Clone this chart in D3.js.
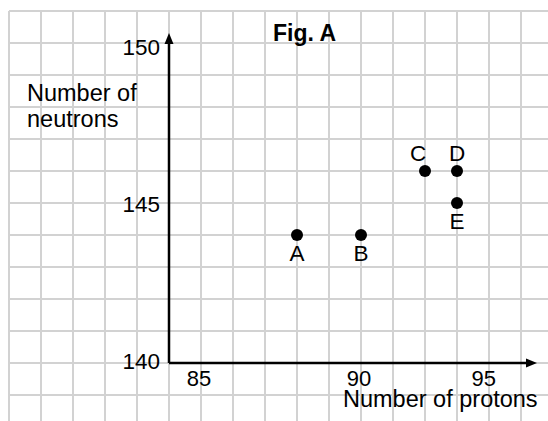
<!DOCTYPE html>
<html>
<head>
<meta charset="utf-8">
<script src="https://cdn.jsdelivr.net/npm/d3@7"></script>
<style>
  body { margin: 0; background: #fff; }
  text { font-family: "Liberation Sans", Arial, sans-serif; fill: #000; }
</style>
</head>
<body>
<svg width="548" height="421"></svg>
<script>
// Nuclides plotted on the chart
const names = ["A", "B", "C", "D", "E"];
const protons = [88, 90, 92, 93, 93];
const neutrons = [144, 144, 146, 146, 145];
// where each point label sits relative to its dot
const labelSide = ["below", "below", "above", "above", "below"];

// Axis tick labels (the 95 is drawn short of its grid line in the original)
const xTickLabels = ["85", "90", "95"];
const xTickAt = [85, 90, 93.9];
const yTickLabels = ["140", "145", "150"];
const yTickAt = [140, 145, 150];

const svg = d3.select("svg");

// One grid square = one unit on both axes
const x = d3.scaleLinear().domain([79, 96]).range([9, 553]);
const y = d3.scaleLinear().domain([138, 151]).range([427, 11]);

const xOrigin = 84, yOrigin = 140;

// Graph-paper grid
const grid = svg.append("g")
    .attr("stroke", "#d2d2d2")
    .attr("stroke-width", 2);

grid.selectAll(".v")
    .data(d3.range(79, 97))
    .enter().append("line")
    .attr("x1", d => x(d)).attr("x2", d => x(d))
    .attr("y1", y(151)).attr("y2", 421);

grid.selectAll(".h")
    .data(d3.range(139, 152))
    .enter().append("line")
    .attr("x1", x(79)).attr("x2", 548)
    .attr("y1", d => y(d)).attr("y2", d => y(d));

// Axes with arrow heads
const axes = svg.append("g");
axes.append("line")
    .attr("x1", x(xOrigin)).attr("x2", x(xOrigin))
    .attr("y1", y(yOrigin)).attr("y2", 40)
    .attr("stroke", "#000").attr("stroke-width", 2.5);
axes.append("line")
    .attr("x1", x(xOrigin)).attr("x2", 530)
    .attr("y1", y(yOrigin)).attr("y2", y(yOrigin))
    .attr("stroke", "#000").attr("stroke-width", 2.5);

const ax = x(xOrigin), ay = y(yOrigin);
axes.append("path")
    .attr("d", `M${ax},33 L${ax - 4.5},44 L${ax + 4.5},44 Z`)
    .attr("fill", "#000");
axes.append("path")
    .attr("d", `M537,${ay} L526,${ay - 4.5} L526,${ay + 4.5} Z`)
    .attr("fill", "#000");

// Tick labels
svg.selectAll(".xt")
    .data(xTickLabels)
    .enter().append("text")
    .attr("x", (d, i) => x(xTickAt[i]) - 2)
    .attr("y", y(yOrigin) + 23)
    .attr("text-anchor", "middle")
    .attr("font-size", 22)
    .text(d => d);

svg.selectAll(".yt")
    .data(yTickLabels)
    .enter().append("text")
    .attr("x", x(xOrigin) - 9)
    .attr("y", (d, i) => y(yTickAt[i]) + 6 + i * 3)
    .attr("text-anchor", "end")
    .attr("font-size", 22.5)
    .text(d => d);

// Axis titles and figure title
svg.append("text")
    .attr("x", 273).attr("y", 41)
    .attr("font-size", 23).attr("font-weight", "bold")
    .text("Fig. A");

svg.append("text")
    .attr("x", 27).attr("y", 101)
    .attr("font-size", 23.5)
    .selectAll("tspan")
    .data(["Number of", "neutrons"])
    .enter().append("tspan")
    .attr("x", 27)
    .attr("dy", (d, i) => i ? 26 : 0)
    .text(d => d);

svg.append("text")
    .attr("x", 343).attr("y", 407)
    .attr("font-size", 23.5)
    .text("Number of protons");

// Points and their letters
const pts = svg.append("g");
pts.selectAll("circle")
    .data(names)
    .enter().append("circle")
    .attr("cx", (d, i) => x(protons[i]))
    .attr("cy", (d, i) => y(neutrons[i]))
    .attr("r", 6)
    .attr("fill", "#000");

pts.selectAll("text")
    .data(names)
    .enter().append("text")
    .attr("x", (d, i) => x(protons[i]) + (d === "C" ? -7 : 0))
    .attr("y", (d, i) => y(neutrons[i]) + (labelSide[i] === "below" ? 26 : -10))
    .attr("text-anchor", "middle")
    .attr("font-size", 22.5)
    .text(d => d);
</script>
</body>
</html>
